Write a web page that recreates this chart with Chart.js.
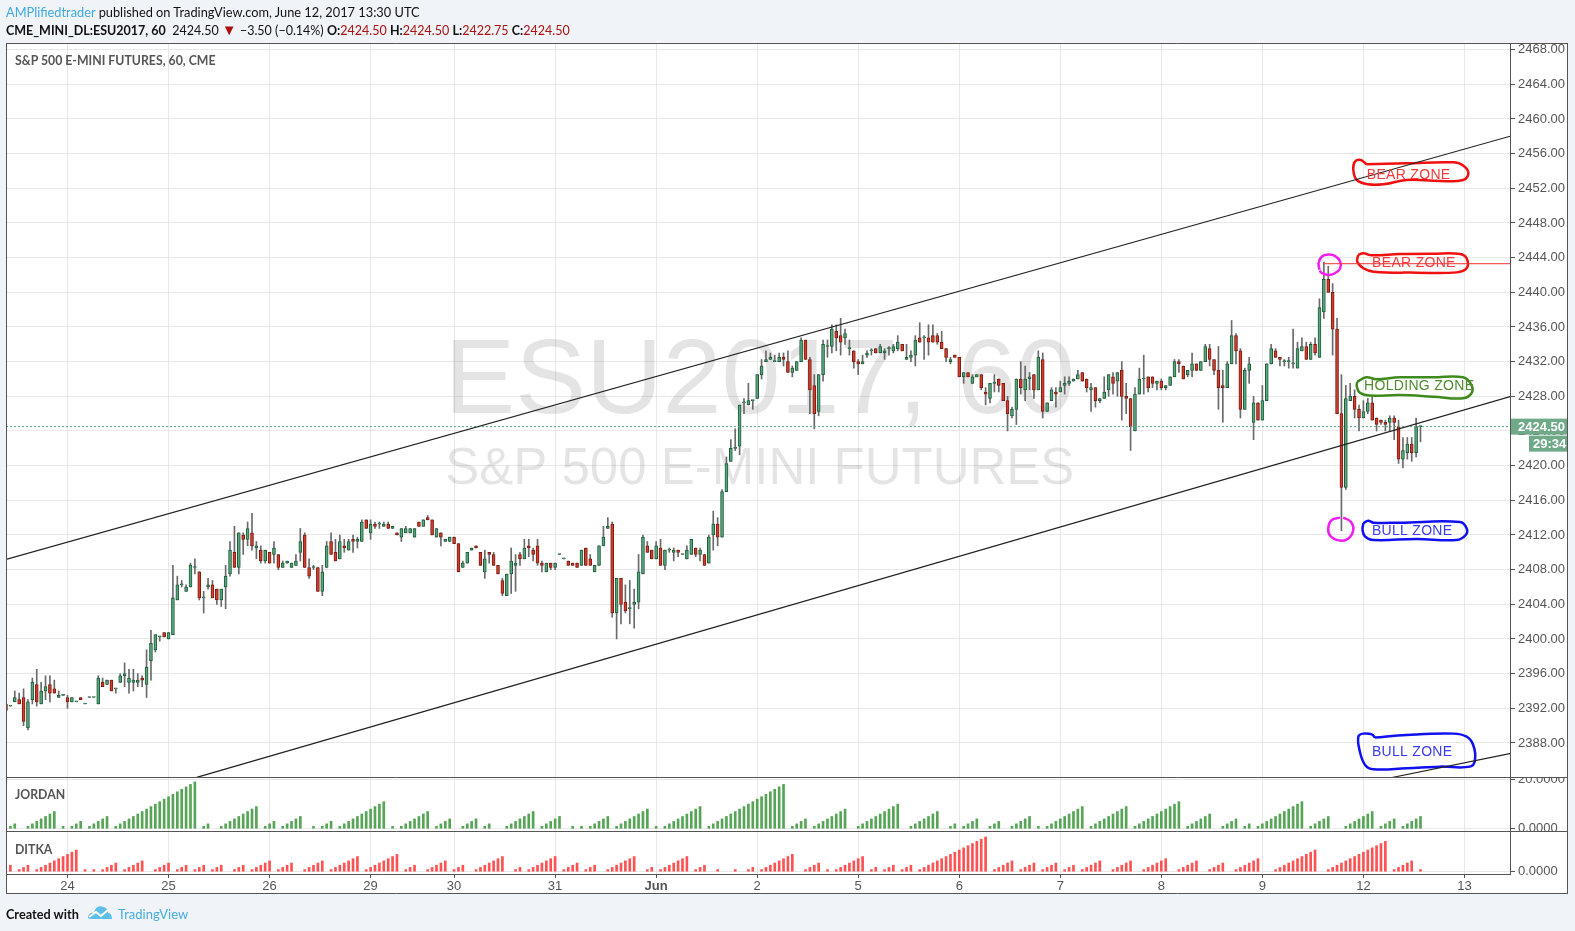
<!DOCTYPE html>
<html>
<head>
<meta charset="utf-8">
<style>
html,body{margin:0;padding:0;background:#f0f3f7;width:1575px;height:931px;overflow:hidden;font-family:Lato,"Open Sans",sans-serif;}
canvas{position:absolute;left:0;top:0;display:block;}
.t{position:absolute;white-space:pre;color:#111;font-size:13px;line-height:16px;}
.b{font-weight:700;}
.v{color:#ab1111;}
.p{color:#555;font-weight:700;font-size:12.3px;}
</style>
<script src="https://cdn.jsdelivr.net/npm/chart.js@4/dist/chart.umd.min.js"></script>
</head>
<body>
<canvas id="c" width="1575" height="931"></canvas>
<div class="t" style="left:6px;top:4px;font-size:12.8px"><span style="color:#3fa9e0">AMPlifiedtrader</span> published on TradingView.com, June 12, 2017 13:30 UTC</div>
<div class="t" style="left:6px;top:22px;font-size:12.5px"><span class="b">CME_MINI_DL:ESU2017, 60</span>  2424.50 <span class="v" style="font-size:15px;line-height:14px">▼</span> −3.50 (−0.14%) <span class="b">O:</span><span class="v">2424.50</span> <span class="b">H:</span><span class="v">2424.50</span> <span class="b">L:</span><span class="v">2422.75</span> <span class="b">C:</span><span class="v">2424.50</span></div>
<div class="t p" style="left:15px;top:53px">S&amp;P 500 E-MINI FUTURES, 60, CME</div>
<div class="t p" style="left:15px;top:787px">JORDAN</div>
<div class="t p" style="left:15px;top:842px">DITKA</div>
<div class="t b" style="left:6px;top:906px;font-size:12.7px">Created with</div>
<svg style="position:absolute;left:87px;top:904px" width="26" height="16" viewBox="0 0 26 16"><path d="M1 14 C1 10 4 8 7 9 C8 4 12 1 16 3 C19 3 21 6 21 9 C24 9 25 12 25 15 L3 15 Z" fill="#5cbfe9"/><path d="M2 13 L9 8 L14 12 L21 6" stroke="#fff" stroke-width="2" fill="none"/></svg>
<div class="t" style="left:118px;top:906px;color:#45ade2">TradingView</div>
<script>
const opens = [
2392.5,2392.25,2392.75,2393,2393.25,2389.75,2393,2394.75,2392.5,2394,
2394.75,2394.25,2393.25,2393.5,2393.25,2392.75,2392.75,2393.25,2392.5,2393.25,
2393.25,2392.5,2395,2394.75,2395.25,2394.25,2395,2395.75,2395,2395,
2395,2395.5,2394.75,2397.5,2398.75,2400.25,2400.75,2400,2400.5,2404.5,
2406.25,2405.5,2406,2408.25,2407.75,2404.75,2406,2406.25,2405.75,2404.5,
2406,2407.5,2410,2408.25,2412,2411.5,2412.25,2410.5,2410.25,2409,
2410,2409.75,2409.75,2408.25,2408.75,2408.25,2408.5,2410,2412,2408.25,
2408.25,2408.25,2405.5,2408.25,2411.25,2410,2409.25,2410.75,2410.25,2411.5,
2411.25,2411.25,2413.75,2412.25,2413.25,2413.25,2413,2413.25,2412.75,2412.25,
2411.75,2412.25,2412.25,2411.75,2413.5,2413,2414,2413.75,2411.75,2412.25,
2411.25,2411.25,2411.75,2411,2408.25,2408.75,2410.25,2410.75,2410,2407.75,
2410,2409.75,2408.5,2406.75,2405,2407.5,2408.5,2409.75,2409.25,2410.75,
2410.25,2410.75,2408.75,2407.75,2408.75,2408.25,2409.75,2409.25,2409,2408.75,
2408.75,2408.5,2410.5,2409.25,2407.75,2408.5,2410.75,2412.75,2413.25,2403,
2407,2404.25,2403.5,2404,2404.25,2407.5,2410.75,2410.25,2409.25,2410.5,
2408.5,2410.25,2410,2410.25,2409.75,2409.25,2409.75,2410.5,2409.75,2409.75,
2408.75,2412,2413.25,2411.75,2417,2420.5,2422,2422.25,2427.25,2427,
2427.5,2427.75,2430.5,2432,2432.25,2432,2432,2432.5,2432,2430.75,
2431,2432,2434.5,2432.25,2429.25,2426.25,2430.5,2433.75,2433.75,2435.5,
2435,2434.75,2433.5,2433.25,2432,2431.75,2432.75,2433.25,2433.5,2433,
2433,2433.5,2433.25,2433.5,2434,2432.25,2432.5,2432.75,2434.75,2434.75,
2434.75,2435,2435,2434.25,2433.5,2432,2432.75,2432.5,2430.25,2430.75,
2429.5,2430.25,2430.5,2428.5,2427.75,2429.5,2430,2429.5,2427.5,2425.75,
2426.5,2430,2428.75,2430,2430.5,2428.75,2432.25,2426.25,2427.5,2428.5,
2428.5,2429.25,2429.5,2429.75,2430,2430.75,2430,2428.75,2429,2427.5,
2427.75,2428.75,2430.25,2429.75,2431,2428,2427.75,2424,2428.25,2430,
2430.25,2430.25,2429.5,2429.75,2429,2429.25,2430.25,2432,2431.5,2430.5,
2431,2431.75,2431,2432,2433.5,2432.25,2431,2429.25,2429,2431.75,
2435,2433.25,2426.5,2431,2425,2427.25,2425.25,2427.5,2431.75,2433.25,
2432.5,2432,2432,2431.75,2431.25,2433.25,2433.75,2432.25,2434,2432.5,
2437.75,2441.5,2440,2435.75,2426,2417.5,2427.5,2428,2426.5,2425.5,
2426.25,2427.25,2425.5,2425.25,2425,2425,2425.5,2424.5,2420.75,2421.5,
2422.5,2421.5,2424.5];
const highs = [
2392.5,2392.25,2394,2393.75,2394.25,2393,2395.5,2396.5,2395,2395.75,
2395.75,2395.25,2394,2393.5,2393.5,2393.25,2392.75,2393.25,2392.5,2393.25,
2393.25,2395.75,2395.5,2395.25,2395.25,2394.25,2396,2397.25,2396.5,2396.5,
2396,2395.75,2398.75,2401,2400.5,2400.25,2400.75,2400.75,2408.5,2407.25,
2406.75,2406.25,2408.75,2409.25,2407.75,2405.5,2407,2406.75,2405.75,2405.75,
2408.5,2411.25,2413,2412.25,2412.25,2413.5,2414.5,2411.25,2410.75,2410.25,
2410,2411.25,2409.75,2409,2409,2408.75,2409.75,2412.75,2412.25,2409.25,
2408.5,2408.25,2408.5,2411.25,2412.25,2411.5,2412,2411.5,2411.5,2412,
2411.75,2413.75,2413.75,2413.75,2413.5,2413.5,2413.5,2413.5,2413,2412.25,
2412.75,2413,2412.75,2412.75,2413.5,2413.75,2414.25,2413.75,2412.75,2412.25,
2411.5,2411.75,2411.75,2411,2409,2410,2410.5,2410.75,2410,2410.25,
2410,2410,2408.5,2407,2407.5,2410.5,2409.75,2410,2411.5,2411.5,
2410.5,2411.5,2409,2408.75,2408.75,2408.75,2409.75,2409.25,2409,2408.75,
2408.75,2410.25,2410.5,2409.75,2408.5,2410.75,2413,2414,2413.5,2407,
2407,2406.25,2406.75,2405.75,2409.75,2412,2411.25,2410.25,2411.25,2411.5,
2410.25,2410.5,2410.5,2410.25,2409.75,2410.75,2411.5,2410.5,2410.5,2409.75,
2412,2414.75,2414,2417.25,2421,2423,2424.25,2427,2427.75,2429.5,
2427.5,2430.5,2432.25,2433.25,2433,2432.75,2433,2433,2433.25,2431.5,
2432,2434.75,2434.5,2432.5,2430.5,2430.5,2434.5,2434.5,2436.25,2436.25,
2437,2435.75,2434.5,2433.25,2432.25,2432.75,2433.25,2433.5,2433.5,2434,
2433.5,2433.75,2434,2435,2434,2434,2433.25,2435,2436.5,2435,
2436.25,2436.25,2435.25,2435.5,2433.5,2432.5,2432.75,2432.5,2430.75,2430.75,
2430.5,2430.5,2430.5,2429,2429.5,2430.5,2430,2429.5,2428,2426.75,
2430,2432,2431.5,2430.75,2430.5,2433.25,2433,2427.25,2429,2429,
2429.75,2430.25,2430.25,2430,2431,2430.75,2430,2429.5,2429,2427.75,
2430.25,2430.5,2430.75,2430.75,2432,2429.5,2427.75,2429,2431.25,2432.75,
2430.25,2430.25,2429.75,2430,2429.25,2430.25,2432.25,2432.25,2431.5,2431,
2433,2431.75,2432,2434,2434,2432.25,2433.75,2431,2432,2436.75,
2435.25,2433.5,2431.25,2432.5,2428,2427.25,2429.25,2431.75,2434,2433.5,
2432.5,2432.25,2432.5,2435.75,2434.25,2434.75,2434.25,2434.25,2434.75,2439.25,
2443.5,2443,2441,2437,2430.5,2429.25,2429.5,2428.75,2427,2427.5,
2427.75,2428,2425.5,2425.25,2425.25,2425.75,2425.75,2425.25,2423.25,2423.25,
2423.25,2425.5,2424.5];
const lows = [
2391.75,2392.25,2392.75,2392.5,2390,2389.5,2392.5,2392.25,2392.5,2393,
2392.75,2393.75,2393.25,2393.5,2392,2392.75,2392.75,2393,2392.5,2393.25,
2393.25,2392.5,2394.5,2394.75,2394,2393.75,2395,2394.5,2393.75,2394,
2394.5,2394.5,2393.25,2395.25,2398.5,2399.75,2400.25,2400,2400.5,2404.5,
2406,2405.5,2406,2407.5,2404.5,2403,2405.75,2404.75,2404,2403.75,
2403.5,2407.25,2408.25,2407.5,2409.75,2410.75,2410.25,2409.25,2408.75,2408.75,
2408.75,2408.75,2408,2408.25,2408.75,2408.25,2408.5,2409,2408.25,2407,
2408,2405.5,2405,2408.25,2409.75,2409,2409.25,2410,2410.25,2410,
2410.5,2411.25,2412.75,2411.5,2412.75,2412.75,2413,2412.75,2412.75,2412,
2411.25,2412.25,2412.25,2411.75,2413,2413,2413.75,2412,2411.75,2410.75,
2411.25,2411.25,2411,2407.75,2408.25,2408.75,2410.25,2410.5,2408.5,2407,
2408.75,2408.5,2407.5,2405,2405,2405.25,2405.5,2408.5,2409.25,2409.5,
2409,2408.5,2407.75,2407.75,2408,2408,2409.75,2409.25,2408.5,2408.5,
2408.25,2408.5,2408.5,2408.5,2407.75,2408.5,2410.75,2412.75,2402.5,2400,
2401.75,2403,2401.75,2401.25,2403.5,2407.5,2410,2409.25,2409.25,2408.5,
2408,2410,2409,2409.5,2409.75,2409.25,2409.75,2409.5,2409,2408.5,
2408.75,2410.25,2410.75,2411.75,2417,2420.5,2421.75,2421.25,2426,2427,
2426.5,2427.75,2430,2432,2432.25,2432,2432,2431.5,2430.75,2430.25,
2431,2432,2432.25,2426,2424.25,2425.75,2429.75,2432.5,2433,2433.25,
2432.75,2434,2432.75,2431.25,2430.5,2431.75,2432.5,2432.75,2433,2433,
2432.25,2432.75,2433,2433.25,2433.25,2432.25,2432,2431.5,2434.25,2432.25,
2432.75,2434.25,2434,2433.5,2432,2431.75,2432.5,2430.25,2429.5,2430.25,
2429.5,2430.25,2428.75,2427,2427.25,2428.5,2428.5,2427.5,2424,2425.5,
2424.75,2428.25,2427.5,2428.75,2427.75,2428.75,2425.5,2426.25,2427.5,2426.75,
2428.5,2428.25,2429.25,2429.75,2430,2429.75,2428.5,2426.25,2426.75,2427.25,
2427.75,2428,2428.25,2428,2425.25,2426,2421.75,2424,2428.25,2428.25,
2428.5,2429,2428.75,2428.75,2428.75,2429.25,2430.25,2430.75,2430,2430.25,
2430.25,2431,2431,2432,2431.5,2430.5,2426.5,2425,2429,2431.75,
2431.75,2425.5,2426.5,2429.5,2423,2425.25,2425.25,2427.5,2431.75,2432.5,
2431.5,2431.5,2431.25,2431.25,2431.25,2433.25,2432.25,2432.25,2432.75,2432.5,
2437,2440,2432.75,2426,2412.5,2417.25,2427.5,2425.5,2424,2425.5,
2426,2425.25,2424,2424.75,2424,2424,2423,2420.25,2419.75,2420.75,
2420.5,2421,2422.75];
const closes = [
2391.75,2392.25,2393.25,2392.5,2390.5,2392.75,2395,2392.75,2394,2394.5,
2393.75,2393.75,2393.5,2393.5,2392.75,2393.25,2392.75,2393,2392.5,2393.25,
2393.25,2395.5,2394.5,2395.25,2394,2394.25,2395.75,2396,2395.5,2395.25,
2395.25,2395.25,2396.75,2399.5,2400.5,2400.25,2400.25,2400.75,2404.75,2406.25,
2406.25,2406,2408.5,2408.25,2404.75,2404.75,2406.25,2404.75,2404.5,2405.75,
2407.25,2410.25,2408.25,2412.25,2411.5,2412.75,2410.75,2410.75,2409,2410.25,
2408.75,2410.5,2408.25,2408.75,2409,2408.75,2409,2411.25,2408.25,2407.25,
2408.25,2405.5,2407.75,2410.75,2409.75,2409,2411.25,2410.5,2411.25,2411.25,
2411.5,2413.5,2412.75,2413.25,2413,2413.25,2413.25,2412.75,2413,2412,
2412.75,2412.75,2412.75,2412.75,2413,2413.75,2413.75,2412,2412.75,2411.75,
2411.5,2411.75,2411,2407.75,2408.75,2410,2410.5,2410.5,2408.5,2409.25,
2409.75,2408.5,2407.5,2405.25,2407.5,2409,2408.75,2409.25,2410.5,2410.5,
2409.75,2408.75,2408.5,2408.75,2408.25,2408.75,2409.75,2409.25,2408.5,2408.5,
2408.25,2410.25,2408.5,2408.5,2408.5,2410.75,2411.75,2413,2403,2407,
2404,2403.25,2403.5,2404.25,2407.75,2411.75,2410,2409.25,2410.75,2408.5,
2410.25,2410.25,2410.25,2410,2409.75,2410.25,2411.5,2409.75,2410.25,2408.5,
2411.75,2413.25,2411.75,2417,2420.25,2422,2422,2427,2427.25,2427.5,
2427.5,2430.5,2431.5,2432.25,2432.5,2432,2432.5,2432.25,2430.75,2431.25,
2432,2434.5,2432.25,2428.75,2426,2430.5,2434,2433.75,2435.75,2434.75,
2434.25,2435.25,2433.5,2432,2431.75,2432,2433,2433.25,2433,2433.75,
2433.25,2433.5,2433.75,2434.25,2433.25,2432.5,2432.75,2434.5,2434.25,2434.75,
2434.25,2434.25,2434.25,2433.5,2432.5,2432.25,2432.5,2430.25,2430.75,2430.25,
2430.25,2430.5,2429,2428.25,2429.5,2429.5,2429.25,2427.5,2426,2426.5,
2430,2429,2430,2430.25,2428.75,2432.5,2426.25,2427.25,2428.75,2428.25,
2429,2429.5,2429.75,2430,2430.5,2429.75,2429,2429,2427.5,2427.75,
2428.5,2430.5,2429.5,2430.75,2428,2427.75,2424.5,2428.25,2430,2430,
2429,2429.5,2429.75,2429,2429.25,2430.25,2432,2431.75,2430,2431,
2431.75,2431,2432,2433.75,2432.25,2431,2429,2429,2431.75,2435,
2433.25,2426.5,2431,2431.75,2427.25,2425.25,2427.5,2431.75,2433.5,2432.5,
2432.25,2432,2432,2431.75,2433.5,2433.75,2432.25,2434,2433,2438.25,
2441.5,2440,2435.75,2426,2417.5,2427.75,2428,2426.5,2425.5,2426.25,
2427.25,2425.25,2424.75,2425,2424.75,2425.5,2425,2420.75,2421.75,2422.5,
2421.5,2424.5,2424.5];
const jordan = [
0,1,2,0,0,1,2,3,4,5,6,7,0,1,0,1,2,3,0,1,2,3,4,5,0,
1,2,3,4,5,6,7,8,9,10,11,12,13,14,15,16,17,18,19,0,1,2,0,0,
1,2,3,4,5,6,7,8,9,0,1,2,3,0,1,2,3,4,5,0,0,1,0,1,2,3,0,
1,2,3,4,5,6,7,8,9,10,11,0,1,0,1,2,3,4,5,6,7,0,1,2,3,4,0,0,
1,2,3,4,0,1,2,0,0,0,1,2,3,4,5,6,7,0,1,2,3,4,5,0,0,1,0,1,0,
1,2,3,4,5,0,1,2,3,4,5,6,7,8,0,1,0,1,2,3,4,5,6,7,8,9,0,
1,2,3,4,5,6,7,8,9,10,11,12,13,14,15,16,17,18,0,1,2,3,4,0,
1,2,3,4,5,6,7,8,0,0,1,2,3,4,5,6,7,8,9,10,0,0,1,2,3,4,5,6,7,0,0,
1,2,0,1,2,3,4,0,0,1,2,3,0,0,1,2,3,4,5,0,1,0,1,2,3,4,5,6,7,8,9,0,
1,2,3,4,5,6,7,8,9,0,1,2,3,4,5,6,7,8,9,10,11,0,1,2,3,4,5,6,0,0,
1,2,3,4,0,1,2,0,1,2,3,4,5,6,7,8,9,10,11,0,1,2,3,4,5,0,0,0,
1,2,3,4,5,6,7,0,1,2,3,4,0,1,2,3,4,5];
const ditka = [
0,3,0,1,2,3,0,1,2,3,4,5,6,7,8,9,10,0,1,0,1,0,1,2,3,4,0,1,2,3,4,5,0,0,
1,2,3,4,0,1,2,3,0,1,2,3,0,1,2,3,0,0,1,2,3,0,1,2,3,4,5,0,1,2,3,4,0,0,
1,2,3,4,5,0,1,2,3,4,5,6,7,0,1,2,3,4,5,6,7,8,0,1,2,3,0,0,1,2,3,4,5,0,
1,2,3,0,0,1,2,3,4,5,6,7,0,0,1,2,0,1,2,3,4,5,6,7,0,1,2,3,4,0,1,2,3,0,0,
1,2,3,4,5,6,7,0,0,1,2,0,1,2,3,4,5,6,7,0,1,2,3,0,0,1,0,0,0,1,0,0,1,2,0,
1,2,3,4,5,6,7,8,0,0,1,2,3,4,0,1,0,1,2,3,4,5,6,7,0,1,2,0,1,2,3,0,1,2,3,0,
1,2,3,4,5,6,7,8,9,10,11,12,13,14,15,16,0,1,2,3,4,5,0,1,2,3,4,0,1,2,3,4,0,
1,2,3,0,1,2,3,4,5,0,0,1,2,3,4,5,0,0,1,2,3,4,5,6,0,0,1,2,3,4,5,0,0,
1,2,3,4,0,0,1,2,3,4,5,6,0,0,0,1,2,3,4,5,6,7,8,9,10,0,0,
1,2,3,4,5,6,7,8,9,10,11,12,13,14,0,1,2,3,4,5,0,1];
const tickBars = [14,37,60,83,102,125,148,171,194,217,240,263,286,309,332];
const tickLabels = ['24','25','26','29','30','31','Jun','2','5','6','7','8','9','12','13'];
const priceTicks = [2388,2392,2396,2400,2404,2408,2412,2416,2420,2424,2428,2432,2436,2440,2444,2448,2452,2456,2460,2464,2468];
const jordanTicks = [0,20];
const ditkaTicks = [0];
const lastPrice = 2424.5;
const countdown = '29:34';
const channelTop = [[0.23,2409.2],[342.6,2458.04]];
const channelBottom = [[43.41,2384.04],[342.6,2428]];
const channelLower = [[315.5,2384.02],[342.6,2386.8]];
const highLine = [[299.9,2443.3],[342.4,2443.3]];
const circleHigh = [[299,2442.6],[298.8,2443.35],[299.5,2444.1],[301,2444.35],[302.5,2444.2],[303.7,2443.55],[303.7,2442.75],[302.5,2442.2],[301,2442],[299.5,2442.25],[299,2442.5]];
const circleLow = [[303.7,2414],[301.8,2413.73],[301,2412.77],[301.5,2411.88],[303.7,2411.35],[305.6,2411.6],[306.7,2412.6],[306.1,2413.55],[304.4,2414]];
const bearOutlineA = [[309.7,2454.77],[308.4,2455.27],[307.1,2455.08],[306.7,2454.12],[307.5,2452.96],[310.1,2452.46],[313.5,2452.46],[318.85,2452.96],[326.4,2452.85],[331.7,2452.96],[332.9,2453.73],[331.7,2454.62],[329.5,2455],[318.85,2454.88],[309.7,2454.77]];
const bearOutlineB = [[307.8,2444.3],[309,2444.5],[310.9,2444.27],[317.3,2444.42],[324.9,2444.46],[331,2444.42],[332.5,2443.92],[332.5,2442.77],[330.2,2442.3],[321.1,2442.27],[311.3,2442.38],[309,2442.77],[307.6,2443.54],[307.8,2444.3]];
const holdOutline = [[307.6,2429.69],[309.7,2430.19],[312,2429.96],[317.3,2430.19],[324.9,2430.19],[331.7,2430.19],[333.6,2429.3],[333.6,2428.35],[331.7,2427.77],[324.9,2427.96],[317.3,2428.15],[310.5,2428.08],[308.2,2428.42],[307.5,2429.12],[307.6,2429.69]];
const bullOutlineA = [[309,2413.35],[310.1,2413.65],[311.3,2413.42],[317.3,2413.42],[331,2413.5],[332.5,2412.77],[332.3,2412],[330.2,2411.42],[321.1,2411.54],[311.3,2411.42],[309.4,2411.81],[308.8,2412.58],[309,2413.35]];
const bullOutlineB = [[311.65,2388.62],[310.9,2389],[309,2389.08],[307.85,2388.73],[308.2,2387],[309.4,2385.46],[311.25,2384.96],[318.85,2385.08],[326.4,2385.27],[333.25,2385.27],[334.4,2386.04],[334,2387.77],[332.5,2388.73],[329.5,2389.08],[318.85,2388.93],[311.65,2388.62]];
const zoneLabels = ['BEAR ZONE','BEAR ZONE','HOLDING ZONE','BULL ZONE','BULL ZONE'];
const zoneBars = [319.3,320.5,321.7,320.1,320.1];
const zonePrices = [2453.55,2443.36,2429.17,2412.48,2386.98];
const zoneColors = ['#f33a3a','#f33a3a','#4f8a2f','#3a3af0','#3a3af0'];
const watermark = ['ESU2017, 60','S&P 500 E-MINI FUTURES'];
const watermarkBars = [171.6,171.6];
const watermarkPrices = [2426.1,2417.9];
const watermarkSizes = [106,51];

const GREEN='#57a67c', GREEN_D='#1f5c3c', RED='#d33c2c', RED_D='#7a1c12';
const up = i => closes[i] >= opens[i];
const pts = a => a.map(p => ({x:p[0], y:p[1]}));
const line = (a,color,width,extra) => Object.assign({type:'line',data:pts(a),borderColor:color,borderWidth:width,pointRadius:0,fill:false,yAxisID:'y',xAxisID:'x',order:0,tension:0},extra||{});
const sketch = (a,color) => line(a,color,2.5,{tension:0.4});
const lineF = 'Liberation Sans, Arial, sans-serif';

const panePlugin = {
  id:'panes',
  beforeDraw(ch){
    const {ctx,chartArea:a,scales:s}=ch;
    ctx.save();ctx.fillStyle='#fff';
    ctx.fillRect(a.left,a.top,s.y.right-a.left,s.x.bottom-a.top);
    ctx.restore();
  },
  beforeDatasetsDraw(ch){
    const {ctx,scales:s}=ch;
    ctx.save();
    ctx.fillStyle='rgba(0,0,0,0.105)';
    ctx.textAlign='center';ctx.textBaseline='alphabetic';
    watermark.forEach((t,i)=>{
      ctx.font=watermarkSizes[i]+'px '+lineF;
      ctx.fillText(t,s.x.getPixelForValue(watermarkBars[i]),s.y.getPixelForValue(watermarkPrices[i]));
    });
    ctx.restore();
  },
  afterDatasetsDraw(ch){
    const {ctx,scales:s}=ch;
    ctx.save();
    ctx.font='14px '+lineF;
    ctx.textAlign='center';ctx.textBaseline='middle';
    ctx.letterSpacing='0.3px';
    zoneLabels.forEach((t,i)=>{
      ctx.fillStyle=zoneColors[i];
      ctx.fillText(t,s.x.getPixelForValue(zoneBars[i]),s.y.getPixelForValue(zonePrices[i]));
    });
    ctx.restore();
  },
  afterDraw(ch){
    const {ctx,chartArea:a,scales:s}=ch;
    const R=s.y.right, L=a.left;
    ctx.save();
    // the top tick of the first study is cut by its pane edge
    ctx.fillStyle='#fff';
    ctx.fillRect(s.y.left+1,s.y.bottom-22,R-s.y.left-1,22);
    ctx.strokeStyle='#555';ctx.lineWidth=1;
    const h=(y,x0,x1)=>{ctx.beginPath();ctx.moveTo(x0,Math.round(y)+.5);ctx.lineTo(x1,Math.round(y)+.5);ctx.stroke();};
    const v=(x,y0,y1)=>{ctx.beginPath();ctx.moveTo(Math.round(x)-.5,y0);ctx.lineTo(Math.round(x)-.5,y1);ctx.stroke();};
    h(s.y.bottom-1,L-1,R);
    h(s.yJ.bottom-1,L-1,R);
    h(s.yD.bottom-1,L-1,a.right);
    v(a.right,a.top-1,s.yD.bottom);
    v(L,a.top-1,s.x.bottom);
    v(R,a.top-1,s.x.bottom);
    h(a.top-1,L-1,R);
    h(s.x.bottom-1,L-1,R);
    // last-price tags
    const y=s.y.getPixelForValue(lastPrice);
    ctx.fillStyle='#6fa988';
    ctx.fillRect(a.right,y-8,R-a.right-1,16);
    ctx.fillRect(a.right+18,y+9,R-a.right-19,16);
    ctx.fillStyle='#fff';ctx.font='bold 13px '+lineF;ctx.textAlign='left';ctx.textBaseline='middle';
    ctx.fillText(lastPrice.toFixed(2),a.right+7,y+.5);
    ctx.fillText(countdown,a.right+22,y+17.5);
    ctx.restore();
  }
};

const yOpts = (ticks,min,max,weight,digits) => ({
  type:'linear',position:'right',stack:'panes',stackWeight:weight,min,max,
  afterBuildTicks(sc){sc.ticks=ticks.map(v=>({value:v}));},
  afterFit(sc){sc.width=57;},
  border:{display:false},
  grid:{color:'#e8e8e8',lineWidth:1,tickLength:4,tickColor:'#555'},
  ticks:{color:'#555',autoSkip:false,padding:3,font:{family:lineF,size:13},callback:v=>Number(v).toFixed(digits)}
});

new Chart(document.getElementById('c'),{
  type:'bar',
  data:{datasets:[
    line(channelTop,'#222',1.2),
    line(channelBottom,'#222',1.2),
    line(channelLower,'#222',1.2),
    line(highLine,'#f33030',1),
    sketch(circleHigh,'#f21ef2'),
    sketch(circleLow,'#f21ef2'),
    sketch(bearOutlineA,'#f01010'),
    sketch(bearOutlineB,'#f01010'),
    sketch(holdOutline,'#3f8a1c'),
    sketch(bullOutlineA,'#1010f0'),
    sketch(bullOutlineB,'#1010f0'),
    {label:'price line',type:'line',data:[{x:0,y:lastPrice},{x:343,y:lastPrice}],borderColor:'#57a67c',borderWidth:1,borderDash:[2,2],pointRadius:0,yAxisID:'y',xAxisID:'x',order:2},
    {label:'bodies',data:opens.map((o,i)=>({x:i,y:[o,closes[i]]})),yAxisID:'y',xAxisID:'x',barThickness:3,grouped:false,minBarLength:1,
      backgroundColor:opens.map((o,i)=>up(i)?GREEN:RED),borderColor:opens.map((o,i)=>up(i)?GREEN_D:RED_D),borderWidth:1,borderSkipped:false,order:3},
    {label:'wicks',data:lows.map((l,i)=>({x:i,y:[l,highs[i]]})),yAxisID:'y',xAxisID:'x',barThickness:1,grouped:false,backgroundColor:'#6a6a6a',borderWidth:0,order:4},
    {label:'JORDAN',data:jordan.map((v,i)=>({x:i,y:v||null})),yAxisID:'yJ',xAxisID:'x',barThickness:2,grouped:false,backgroundColor:'#56a556',borderWidth:0,order:5},
    {label:'DITKA',data:ditka.map((v,i)=>({x:i,y:v||null})),yAxisID:'yD',xAxisID:'x',barThickness:2,grouped:false,backgroundColor:'#ff5252',borderWidth:0,order:5}
  ]},
  options:{
    responsive:false,animation:false,
    layout:{padding:{left:7,top:44,right:7,bottom:37}},
    plugins:{legend:{display:false},tooltip:{enabled:false}},
    scales:{
      x:{type:'linear',offset:false,min:0.23,max:342.6,
        afterBuildTicks(sc){sc.ticks=tickBars.map(v=>({value:v}));},
        afterFit(sc){sc.height=19;},
        border:{display:false},
        grid:{color:'#e8e8e8',offset:false,tickLength:3,tickColor:'#555'},
        ticks:{color:'#555',autoSkip:false,maxRotation:0,padding:1,
          font:c=>({family:lineF,size:13,weight:tickLabels[c.index]==='Jun'?'bold':'normal'}),
          callback:(v,i)=>tickLabels[i]}},
      y:yOpts(priceTicks,2383.96,2468.65,734,2),
      yJ:yOpts(jordanTicks,-1.3,20.6,54,4),
      yD:yOpts(ditkaTicks,-1.5,18.3,43,4)
    }
  },
  plugins:[panePlugin]
});
</script>
</body>
</html>
